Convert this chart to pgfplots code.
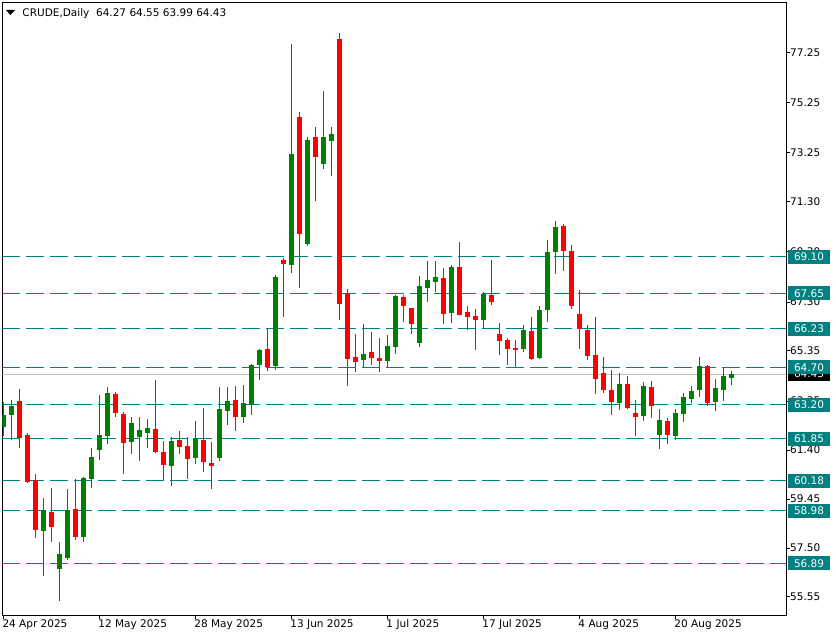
\documentclass[border=0pt]{standalone}
\usepackage{fontspec}
\setmainfont{DejaVu Sans}
\usepackage{pgfplots}
\usepackage{pgfplotstable}
\pgfplotsset{compat=1.18}

\definecolor{cgreen}{RGB}{0,128,0}
\definecolor{cred}{RGB}{255,0,0}
\definecolor{cteal}{RGB}{0,128,128}
\definecolor{cgray}{RGB}{192,192,192}

% daily candles, bar index i (0 = 24 Apr 2025)
\pgfplotstableread{
i  o     h     l     c
0  62.33 63.30 61.96 62.80
1  62.80 63.40 61.81 63.16
5  58.18 59.50 56.39 59.00
7  56.66 57.75 55.40 57.26
8  57.10 59.85 57.02 59.00
10 57.94 60.33 57.74 60.29
11 60.25 61.49 59.89 61.13
12 61.40 63.60 61.00 62.00
13 61.96 63.91 61.65 63.67
16 61.73 62.72 61.25 62.48
17 61.92 62.72 60.97 62.20
18 62.08 62.64 61.49 62.28
21 60.77 61.92 59.99 61.77
24 61.09 62.56 60.85 61.88
27 61.09 63.91 60.97 63.04
28 62.96 63.91 62.40 63.36
30 62.72 63.99 62.48 63.28
31 63.24 64.83 62.80 64.79
32 64.79 65.42 64.19 65.39
34 64.76 68.38 64.60 68.31
36 68.78 77.58 68.47 73.20
38 69.61 73.89 69.53 73.76
40 72.80 75.72 72.61 73.89
41 73.73 74.29 72.33 73.99
45 64.99 66.43 64.66 65.23
48 64.95 65.99 64.66 65.55
49 65.52 67.58 65.22 67.54
52 65.68 68.34 65.52 67.94
53 67.87 68.94 67.31 68.18
54 68.10 68.94 67.70 68.30
56 66.88 68.78 66.48 68.70
60 66.60 67.70 66.24 67.62
65 65.44 66.38 65.32 66.19
67 65.08 67.14 65.04 66.98
68 66.99 69.77 66.52 69.29
69 69.29 70.53 68.43 70.29
77 63.29 64.47 63.01 64.03
80 62.77 64.13 62.57 63.95
82 62.01 63.04 61.45 62.60
84 61.97 63.04 61.81 62.88
85 62.85 63.68 62.53 63.52
86 63.44 63.95 63.29 63.76
87 63.81 65.11 63.53 64.75
89 63.33 64.23 62.97 63.87
90 63.81 64.71 63.37 64.35
91 64.27 64.55 63.99 64.43
}\bull

\pgfplotstableread{
i  o     h     l     c
2  63.36 63.83 61.49 61.88
3  62.00 62.07 60.10 60.14
4  60.20 60.45 57.90 58.22
6  58.93 59.90 57.74 58.35
9  59.05 60.25 57.82 57.94
14 63.63 63.71 62.72 62.88
15 62.84 62.92 60.45 61.69
19 62.24 64.19 61.29 61.33
20 61.33 61.77 60.18 60.81
22 61.81 62.16 61.25 61.53
23 61.57 61.92 60.25 61.05
25 61.81 63.08 60.53 60.93
26 60.89 61.73 59.85 60.77
29 63.40 63.95 62.16 62.72
33 65.43 66.25 64.56 64.72
35 68.98 69.04 66.72 68.82
37 74.67 74.87 67.87 70.01
39 73.89 74.29 71.33 73.09
42 77.78 78.03 66.58 67.21
43 67.65 67.83 63.97 65.02
44 65.11 66.04 64.52 64.92
46 65.31 66.11 64.80 65.08
47 65.07 65.85 64.52 64.95
50 67.50 67.58 66.52 67.14
51 67.06 67.08 66.04 66.44
55 68.26 68.66 66.44 66.84
57 68.70 69.68 66.78 66.80
58 66.90 67.14 66.20 66.72
59 66.74 67.02 65.40 66.60
61 67.58 68.98 67.19 67.31
62 66.03 66.46 65.20 65.76
63 65.79 65.87 64.80 65.44
64 65.47 65.79 64.72 65.40
66 66.15 66.70 65.00 65.04
70 70.33 70.41 68.55 69.35
71 69.33 69.57 67.03 67.15
72 66.82 67.78 65.44 66.21
73 66.19 66.38 65.00 65.16
74 65.19 66.70 63.65 64.25
75 64.47 65.11 63.69 63.81
76 63.79 64.59 62.81 63.32
78 64.03 64.35 63.05 63.09
79 62.87 63.40 61.97 62.73
81 63.91 64.15 62.69 63.17
83 62.56 62.68 61.66 62.01
88 64.76 64.80 63.17 63.29
}\bear

\pgfplotsset{
  wick/.style={draw=none, mark=none, forget plot,
    error bars/.cd, y dir=both, y explicit, error mark=none,
    error bar style={line width=1pt, draw=#1}},
  body/.style={draw=none, mark=none, forget plot,
    error bars/.cd, y dir=both, y explicit, error mark=none,
    error bar style={line width=5pt, draw=#1}},
  level/.style={cteal, line width=1pt, dash pattern=on 18pt off 6pt, forget plot},
}

\begin{document}
\begin{tikzpicture}
\begin{axis}[
  name=ax,
  at={(0,0)}, anchor=south west,
  scale only axis,
  width=783.7pt, height=613pt,
  xmin=-0.125, xmax=97.84,
  ymin=54.82, ymax=79.24,
  axis line style={black, line width=1pt},
  tick style={black, line width=1pt},
  major tick length=4pt,
  tick align=outside,
  xtick pos=left, ytick pos=right,
  xtick={0,12,24,36,48,60,72,84},
  xticklabels={24 Apr 2025,12 May 2025,28 May 2025,13 Jun 2025,1 Jul 2025,17 Jul 2025,4 Aug 2025,20 Aug 2025},
  ytick={55.55,57.50,59.45,61.40,63.35,65.35,67.30,69.30,71.30,73.25,75.25,77.25},
  yticklabels={55.55,57.50,59.45,61.40,63.35,65.35,67.30,69.30,71.30,73.25,75.25,77.25},
  every tick label/.append style={font=\fontsize{10.5}{12}\selectfont},
  xticklabel style={anchor=north west, inner sep=0pt, xshift=-1pt},
  yticklabel style={anchor=west, inner sep=0pt},
]
% levels
\addplot[level] coordinates {(-0.125,69.10) (97.84,69.10)};
\addplot[level] coordinates {(-0.125,67.65) (97.84,67.65)};
\addplot[level] coordinates {(-0.125,66.23) (97.84,66.23)};
\addplot[level] coordinates {(-0.125,64.70) (97.84,64.70)};
\addplot[level] coordinates {(-0.125,63.20) (97.84,63.20)};
\addplot[level] coordinates {(-0.125,61.85) (97.84,61.85)};
\addplot[level] coordinates {(-0.125,60.18) (97.84,60.18)};
\addplot[level] coordinates {(-0.125,58.98) (97.84,58.98)};
\addplot[level] coordinates {(-0.125,56.89) (97.84,56.89)};
% bid line
\addplot[cgray, line width=1pt, forget plot] coordinates {(-0.125,64.43) (97.84,64.43)};

% wicks
\addplot[wick=cgreen] table[x=i, y expr={(\thisrow{h}+\thisrow{l})/2}, y error expr={(\thisrow{h}-\thisrow{l})/2}] {\bull};
\addplot[wick=cred] table[x=i, y expr={(\thisrow{h}+\thisrow{l})/2}, y error expr={(\thisrow{h}-\thisrow{l})/2}] {\bear};
% bodies
\addplot[body=cgreen] table[x=i, y expr={(\thisrow{o}+\thisrow{c})/2}, y error expr={abs(\thisrow{c}-\thisrow{o})/2}] {\bull};
\addplot[body=cred] table[x=i, y expr={(\thisrow{o}+\thisrow{c})/2}, y error expr={abs(\thisrow{c}-\thisrow{o})/2}] {\bear};

\coordinate (bid) at (axis cs:97.84,64.43);
\coordinate (L1) at (axis cs:97.84,69.10);
\coordinate (L2) at (axis cs:97.84,67.65);
\coordinate (L3) at (axis cs:97.84,66.23);
\coordinate (L4) at (axis cs:97.84,64.70);
\coordinate (L5) at (axis cs:97.84,63.20);
\coordinate (L6) at (axis cs:97.84,61.85);
\coordinate (L7) at (axis cs:97.84,60.18);
\coordinate (L8) at (axis cs:97.84,58.98);
\coordinate (L9) at (axis cs:97.84,56.89);
\end{axis}

\tikzset{lbox/.style={anchor=west, inner sep=0pt, minimum width=42.3pt, minimum height=14.3pt,
  font=\fontsize{10.5}{12}\selectfont, text=white}}
\node[lbox, fill=black] at ([xshift=1.7pt]bid) {64.43};
\foreach \n/\v in {L1/69.10, L2/67.65, L3/66.23, L4/64.70, L5/63.20, L6/61.85, L7/60.18, L8/58.98, L9/56.89}
  \node[lbox, fill=cteal] at ([xshift=1.7pt]\n) {\v};

% header
\fill ([shift={(3.7pt,605.3pt)}]ax.south west) -- ([shift={(12.7pt,605.3pt)}]ax.south west)
  -- ([shift={(8.2pt,600.3pt)}]ax.south west) -- cycle;
\node[anchor=base west, inner sep=0pt, font=\fontsize{10.5}{12}\selectfont]
  at ([shift={(20pt,598.6pt)}]ax.south west) {CRUDE,Daily\ \ 64.27 64.55 63.99 64.43};

\pgfresetboundingbox
\path ([shift={(-2.3pt,-23.7pt)}]ax.south west) rectangle ([shift={(833.7pt,615.3pt)}]ax.south west);
\end{tikzpicture}
\end{document}
